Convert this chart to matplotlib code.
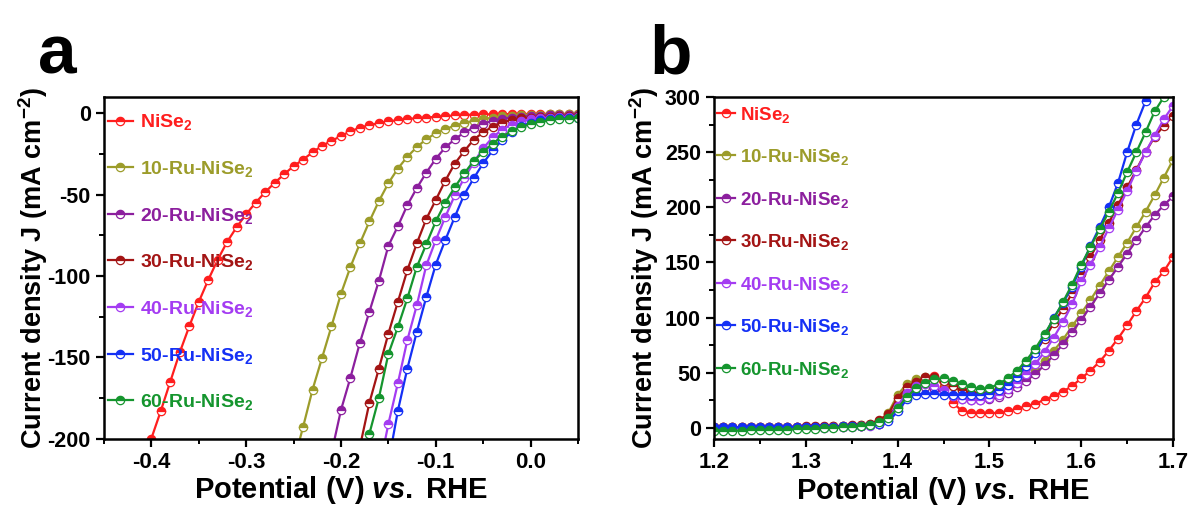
import numpy as np
import matplotlib
matplotlib.use("Agg")
import matplotlib.pyplot as plt
from matplotlib.ticker import MultipleLocator, FormatStrFormatter

plt.rcParams['font.family'] = ['Liberation Sans', 'DejaVu Sans']
plt.rcParams['font.weight'] = 'bold'
plt.rcParams['axes.labelweight'] = 'bold'
plt.rcParams['axes.unicode_minus'] = False
plt.rcParams['mathtext.fontset'] = 'custom'
plt.rcParams['mathtext.rm'] = 'Liberation Sans:bold'
plt.rcParams['mathtext.bf'] = 'Liberation Sans:bold'
plt.rcParams['mathtext.it'] = 'Liberation Sans:bold:italic'
plt.rcParams['mathtext.default'] = 'bf'

labels = ['NiSe$_2$', '10-Ru-NiSe$_2$', '20-Ru-NiSe$_2$', '30-Ru-NiSe$_2$',
          '40-Ru-NiSe$_2$', '50-Ru-NiSe$_2$', '60-Ru-NiSe$_2$']
colors = ['#ff1e1e', '#9c9c2a', '#8c1f9e', '#a31414', '#a43cf2', '#1430f5', '#15952e']

# HER polarization curves, 10 mV steps starting at her_start (V vs. RHE)
her_start = [-0.41, -0.25, -0.21, -0.19, -0.16, -0.15, -0.18]
her_nise2 = [-217, -200, -183, -165, -147, -131, -116, -102.5, -90, -79, -70,
             -62, -55, -48.5, -42.8, -37.5, -32.5, -28.5, -24, -20, -17,
             -14, -11, -9, -7.3, -6, -5, -4.2, -3.5, -3, -2.6,
             -2.2, -1.8, -1.3, -1.0, -0.8, -0.7, -0.6, -0.5, -0.5, -0.4,
             -0.4, -0.3, -0.3, -0.3, -0.3, -0.3]
her_ru10 = [-215, -193, -170, -150.5, -131, -111, -94.5, -80, -66.5, -54,
            -43, -34, -26.7, -20.8, -15.9, -12.3, -9.8, -7.6, -6, -4.6,
            -3.5, -2.7, -1.9, -1.4, -1.1, -0.9, -0.8, -0.7, -0.6, -0.6, -0.5]
her_ru20 = [-209, -182.5, -162.5, -141, -122, -103, -81.5, -69.5, -56.5, -46,
            -36.5, -28, -21, -16, -11.8, -8.9, -6.4, -4.6, -3.4, -2.6,
            -2.0, -1.6, -1.4, -1.2, -1.1, -1.0, -1.0]
her_ru30 = [-226, -205, -178, -157, -135.5, -116, -96.5, -80, -65, -53.3,
            -41.5, -31, -23.3, -16.2, -11.7, -8.2, -5.7, -4.2, -3.2, -2.6,
            -2.2, -2.0, -1.8, -1.7, -1.6]
her_ru40 = [-220, -191, -166, -139.5, -118, -93.5, -78, -63.8, -50.5, -40,
            -30.3, -21.5, -14.8, -10, -7, -5, -3.8, -3.0, -2.6, -2.3,
            -2.1, -2.0]
her_ru50 = [-215, -183, -157, -134.4, -113, -93, -78, -63.8, -50, -40,
            -30.7, -22.8, -16.5, -11.5, -8, -5.8, -4.4, -3.6, -3.1, -2.8,
            -2.6]
her_ru60 = [-222, -197, -175, -148, -131.5, -113.8, -94.5, -80.5, -66.5, -55,
            -45.5, -37, -29.3, -23.8, -18.6, -14.4, -11, -8.5, -6.5, -5.2,
            -4.3, -3.7, -3.3, -3.0]

# OER curves, 1.20 to 1.70 V in 10 mV steps
oer_v = np.round(np.arange(1.20, 1.705, 0.01), 2)
oer_nise2 = [0.5, 0.5, 0.6, 0.6, 0.7, 0.7, 0.8, 0.8, 0.9, 1.0, 1.0, 1.1, 1.2, 1.3, 1.5, 1.7, 2.0, 2.5,
             4, 9, 22, 33, 40, 45, 47, 38, 23, 15.5, 14, 13.2, 13.2, 14, 15, 17.5, 19.5, 22,
             25.5, 29, 33, 38, 45, 52, 60, 70, 81, 93, 106, 118, 132, 142, 155]
oer_ru10 = [0.5, 0.5, 0.5, 0.6, 0.6, 0.7, 0.7, 0.8, 0.9, 1.0, 1.1, 1.2, 1.3, 1.5, 1.7, 2.0, 2.5, 3.5,
            6, 14, 30, 40, 44, 46, 45, 42, 38, 34, 31, 30, 30, 32, 35, 40, 46, 53,
            61, 70, 80, 92, 104, 116, 129, 142, 155, 168, 182, 196, 211, 227, 243]
oer_ru20 = [0.0, 0.0, 0.1, 0.1, 0.2, 0.2, 0.3, 0.3, 0.4, 0.5, 0.6, 0.7, 0.8, 1.0, 1.2, 1.5, 2.0, 2.8,
            4, 9, 22, 32, 36, 37, 35, 32, 29, 26, 25, 25, 26, 28, 32, 37, 43, 49,
            57, 66, 76, 87, 98, 110, 122, 134, 146, 158, 170, 182, 193, 202, 210]
oer_ru30 = [0.8, 0.8, 0.9, 0.9, 1.0, 1.0, 1.1, 1.1, 1.2, 1.3, 1.4, 1.5, 1.6, 1.8, 2.0, 2.4, 3.0, 4.0,
            7, 13, 27, 37, 42, 46, 46, 43, 38, 34, 32, 31, 32, 36, 42, 49, 58, 69,
            81, 95, 108, 122, 140, 155, 170, 186, 202, 218, 234, 250, 264, 274, 283]
oer_ru40 = [-0.5, -0.5, -0.4, -0.4, -0.3, -0.3, -0.2, -0.2, -0.1, 0.0, 0.1, 0.2, 0.3, 0.5, 0.7, 1.0, 1.5, 2.2,
            4, 8, 20, 32, 38, 40, 38, 34, 29, 26, 25, 25, 27, 30, 35, 41, 49, 58,
            69, 82, 96, 112, 133, 148, 164, 181, 198, 215, 233, 250, 265, 280, 292]
oer_ru50 = [0.5, 0.5, 0.6, 0.6, 0.7, 0.7, 0.8, 0.8, 0.9, 1.0, 1.0, 1.1, 1.2, 1.3, 1.5, 1.7, 2.0, 2.6,
            3.5, 6, 15, 26, 30, 31, 30.5, 30, 29.5, 29.5, 29.5, 30, 31, 34, 39, 46, 56, 68,
            83, 100, 113, 128, 146, 165, 182, 200, 222, 250, 275, 296, 318, 335, 355]
oer_ru60 = [-2.5, -2.5, -2.4, -2.3, -2.2, -2.0, -1.8, -1.6, -1.4, -1.2, -1.0, -0.7, -0.4, 0.0, 0.5, 1.0, 1.8, 3.0,
            5, 9, 18, 28, 36, 41, 44, 45, 43, 40, 37, 35, 36, 40, 45, 52, 61, 72,
            85, 99, 114, 130, 148, 164, 180, 196, 213, 232, 250, 268, 287, 300, 315]

her_curves = [her_nise2, her_ru10, her_ru20, her_ru30, her_ru40, her_ru50, her_ru60]
oer_curves = [oer_nise2, oer_ru10, oer_ru20, oer_ru30, oer_ru40, oer_ru50, oer_ru60]


def draw_curve(ax, v, j, color, label):
    ax.plot(v, j, '-o', color=color, lw=1.6, ms=6, mew=0.9,
            fillstyle='top', mfc=color, mfcalt='white', mec=color, label=label)


def style_axes(ax, ypad):
    for s in ax.spines.values():
        s.set_linewidth(1.8)
    ax.tick_params(which='major', direction='out', length=6, width=1.6, labelsize=16)
    ax.tick_params(axis='y', which='major', labelsize=15.5)
    ax.tick_params(which='minor', direction='out', length=3.5, width=1.4)
    ax.set_xlabel(r'Potential (V) $\mathit{vs.}$ RHE', fontsize=21, labelpad=1)
    ax.set_ylabel(r'Current density J (mA cm$^{-2}$)', fontsize=19.5, labelpad=ypad)


fig = plt.figure(figsize=(11.92, 5.09), dpi=100)
ax1 = fig.add_axes([0.0872, 0.1385, 0.3977, 0.6709])
ax2 = fig.add_axes([0.599, 0.1375, 0.3851, 0.6719])

for start, j, c, lab in zip(her_start, her_curves, colors, labels):
    v = np.round(start + 0.01 * np.arange(len(j)), 2)
    draw_curve(ax1, v, j, c, lab)
ax1.set_xlim(-0.45, 0.05)
ax1.set_ylim(-200, 10)
ax1.xaxis.set_major_locator(MultipleLocator(0.1))
ax1.xaxis.set_minor_locator(MultipleLocator(0.05))
ax1.xaxis.set_major_formatter(FormatStrFormatter('%.1f'))
ax1.yaxis.set_major_locator(MultipleLocator(50))
ax1.yaxis.set_minor_locator(MultipleLocator(25))
style_axes(ax1, -2)
ax1.legend(loc='upper left', bbox_to_anchor=(0.008, 0.955), frameon=False,
           fontsize=14, numpoints=1, handlelength=1.29, handletextpad=0.35,
           labelspacing=1.37, borderaxespad=0, borderpad=0, labelcolor='linecolor')

for j, c, lab in zip(oer_curves, colors, labels):
    draw_curve(ax2, oer_v, j, c, lab)
ax2.set_xlim(1.2, 1.7)
ax2.set_ylim(-10, 300)
ax2.xaxis.set_major_locator(MultipleLocator(0.1))
ax2.xaxis.set_minor_locator(MultipleLocator(0.05))
ax2.xaxis.set_major_formatter(FormatStrFormatter('%.1f'))
ax2.yaxis.set_major_locator(MultipleLocator(50))
ax2.yaxis.set_minor_locator(MultipleLocator(25))
style_axes(ax2, 3)
ax2.legend(loc='upper left', bbox_to_anchor=(0.0065, 0.978), frameon=False,
           fontsize=13.5, numpoints=1, handlelength=0.96, handletextpad=0.27,
           labelspacing=1.2, borderaxespad=0, borderpad=0, labelcolor='linecolor')

fig.text(0.032, 0.855, 'a', fontsize=50, fontweight='bold')
fig.text(0.545, 0.855, 'b', fontsize=50, fontweight='bold')

fig.savefig('out.png', dpi=100)
